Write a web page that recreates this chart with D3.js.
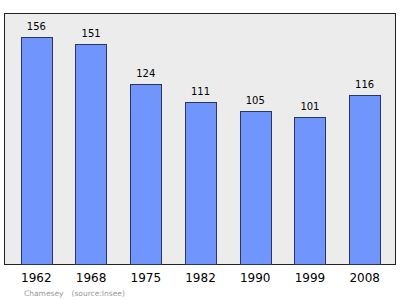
<!DOCTYPE html>
<html><head><meta charset="utf-8">
<script src="https://cdn.jsdelivr.net/npm/d3@7"></script>
<style>body{margin:0;background:#fff}svg{display:block}</style>
</head><body>
<script>
const years = ["1962","1968","1975","1982","1990","1999","2008"];
const population = [156,151,124,111,105,101,116];
const footerName = "Chamesey";
const footerSource = "(source:Insee)";

const W = 400, H = 299;
const svg = d3.select("body").append("svg").attr("width", W).attr("height", H);
const frame = {left: 4.5, top: 13.5, right: 395.5, bottom: 264.5};

svg.append("rect").attr("x", frame.left).attr("y", frame.top)
  .attr("width", frame.right - frame.left).attr("height", frame.bottom - frame.top)
  .attr("fill", "#ececec").attr("stroke", "#222").attr("stroke-width", 1);

const x = d3.scaleBand().domain(years).range([9, 392]).paddingInner(0.43).paddingOuter(0.215);
const y = d3.scaleLinear().domain([0, 172.5]).range([264, 13]);

svg.selectAll("rect.bar").data(population).join("rect").attr("class", "bar")
  .attr("x", (d, i) => Math.round(x(years[i])) + 0.5)
  .attr("y", d => Math.round(y(d)) + 0.5)
  .attr("width", Math.round(x.bandwidth()))
  .attr("height", d => y(0) - Math.round(y(d)))
  .attr("fill", "#7095fd").attr("stroke", "#2a3560").attr("stroke-width", 1);

svg.selectAll("text.val").data(population).join("text").attr("class", "val")
  .attr("x", (d, i) => x(years[i]) + x.bandwidth() / 2)
  .attr("y", d => y(d) - 7)
  .attr("text-anchor", "middle")
  .attr("font-family", "DejaVu Sans, sans-serif").attr("font-size", 10)
  .attr("fill", "#000").text(d => d);

const xAxis = svg.append("g").attr("transform", `translate(0,${frame.bottom})`)
  .call(d3.axisBottom(x).tickSize(0).tickPadding(9));
xAxis.select(".domain").remove();
xAxis.selectAll("text").attr("font-family", "DejaVu Sans, sans-serif").attr("font-size", 12).attr("fill", "#000");

const footer = svg.append("text").attr("x", 24).attr("y", 296)
  .attr("font-family", "DejaVu Sans, sans-serif").attr("font-size", 7.5).attr("fill", "#999");
footer.append("tspan").text(footerName);
footer.append("tspan").attr("dx", 8).text(footerSource);
</script>
</body></html>
